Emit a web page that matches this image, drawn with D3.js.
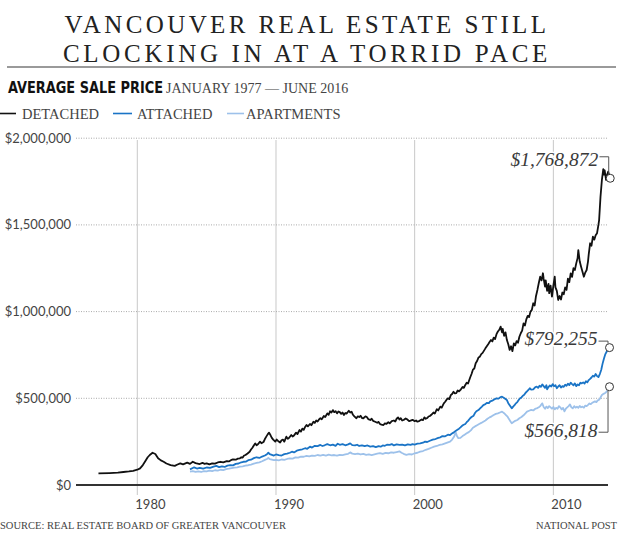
<!DOCTYPE html>
<html>
<head>
<meta charset="utf-8">
<script src="https://cdn.jsdelivr.net/npm/d3@7"></script>
<style>
  html, body { margin: 0; padding: 0; background: #fff; }
  svg { display: block; }
</style>
</head>
<body>
<svg id="chart" width="620" height="542"></svg>
<script>
// ---------- DATA (x = year, y = average price $) ----------
const titleLines = ["VANCOUVER REAL ESTATE STILL", "CLOCKING IN AT A TORRID PACE"];
const subtitleBold = "AVERAGE SALE PRICE";
const subtitleRange = "JANUARY 1977 \u2014 JUNE 2016";
const seriesNames = ["DETACHED", "ATTACHED", "APARTMENTS"];
const seriesColors = ["#111111", "#1a74c6", "#9dc1ea"];
const yTicks = [0, 500000, 1000000, 1500000, 2000000];
const xTicks = [1980, 1990, 2000, 2010];
const sourceText = "SOURCE: REAL ESTATE BOARD OF GREATER VANCOUVER";
const creditText = "NATIONAL POST";

const detached = [
  [1977.2, 67000], [1978.0, 69000], [1978.6, 71000], [1979.0, 75000], [1979.4, 78000], [1979.7, 82000],
  [1980.0, 88000], [1980.2, 96000], [1980.4, 115000], [1980.55, 134000], [1980.75, 160000], [1980.9, 173000],
  [1981.1, 186000], [1981.3, 179000], [1981.5, 154000], [1981.7, 142000], [1981.9, 134000], [1982.1, 124000],
  [1982.4, 115000], [1982.7, 110000], [1982.9, 118000], [1983.1, 125000], [1983.3, 119000], [1983.6, 129000],
  [1983.8, 122000], [1984.0, 134000], [1984.2, 126000], [1984.5, 121000], [1984.7, 128000], [1984.85, 122000],
  [1985.0, 125000], [1985.2, 119000], [1985.4, 125000], [1985.6, 123000], [1985.8, 130000], [1986.0, 134000],
  [1986.2, 131000], [1986.45, 138000], [1986.6, 136000], [1986.75, 143000], [1986.9, 148000], [1987.1, 146000],
  [1987.25, 152000], [1987.4, 154000], [1987.5, 160000], [1987.6, 158000], [1987.7, 170000], [1987.8, 173000],
  [1987.95, 182000], [1988.1, 192000], [1988.2, 205000], [1988.3, 215000], [1988.4, 228000], [1988.5, 240000],
  [1988.6, 229000], [1988.7, 235000], [1988.85, 250000], [1988.95, 241000], [1989.1, 248000], [1989.2, 265000],
  [1989.3, 279000], [1989.4, 292000], [1989.5, 302000], [1989.6, 288000], [1989.7, 272000], [1989.8, 262000],
  [1989.95, 250000], [1990.05, 262000], [1990.15, 254000], [1990.3, 245000], [1990.4, 258000], [1990.5, 262000],
  [1990.6, 250000], [1990.75, 279000], [1990.85, 266000], [1990.95, 272000], [1991.1, 288000], [1991.2, 280000],
  [1991.3, 286000], [1991.45, 302000], [1991.55, 294000], [1991.7, 317000], [1991.8, 308000], [1991.9, 325000],
  [1992.0, 318000], [1992.1, 335000], [1992.2, 346000], [1992.3, 338000], [1992.45, 352000], [1992.55, 345000],
  [1992.7, 365000], [1992.8, 358000], [1992.9, 372000], [1993.0, 366000], [1993.1, 378000], [1993.2, 385000],
  [1993.3, 379000], [1993.45, 398000], [1993.55, 392000], [1993.7, 413000], [1993.8, 405000], [1993.9, 425000],
  [1994.0, 418000], [1994.1, 432000], [1994.2, 420000], [1994.3, 426000], [1994.4, 413000], [1994.5, 424000],
  [1994.6, 420000], [1994.7, 410000], [1994.8, 418000], [1994.9, 404000], [1995.0, 415000], [1995.1, 412000],
  [1995.25, 428000], [1995.35, 418000], [1995.45, 423000], [1995.55, 405000], [1995.65, 396000], [1995.8, 385000],
  [1995.9, 396000], [1996.0, 392000], [1996.1, 399000], [1996.2, 386000], [1996.3, 385000], [1996.45, 396000],
  [1996.55, 392000], [1996.65, 380000], [1996.8, 375000], [1996.9, 382000], [1997.0, 370000], [1997.15, 365000],
  [1997.3, 359000], [1997.4, 364000], [1997.5, 352000], [1997.6, 348000], [1997.75, 346000], [1997.85, 355000],
  [1997.95, 352000], [1998.1, 362000], [1998.2, 356000], [1998.35, 368000], [1998.5, 372000], [1998.6, 366000],
  [1998.7, 382000], [1998.8, 390000], [1998.9, 378000], [1999.0, 385000], [1999.1, 372000], [1999.2, 375000],
  [1999.35, 384000], [1999.45, 379000], [1999.6, 368000], [1999.7, 371000], [1999.85, 376000], [2000.0, 368000],
  [2000.1, 372000], [2000.2, 365000], [2000.35, 370000], [2000.5, 378000], [2000.6, 374000], [2000.7, 390000],
  [2000.8, 382000], [2000.9, 386000], [2001.0, 395000], [2001.1, 398000], [2001.2, 405000], [2001.35, 418000],
  [2001.45, 412000], [2001.6, 437000], [2001.7, 430000], [2001.85, 452000], [2001.95, 446000], [2002.1, 471000],
  [2002.2, 480000], [2002.3, 492000], [2002.4, 500000], [2002.5, 495000], [2002.6, 518000], [2002.7, 525000],
  [2002.8, 538000], [2002.9, 528000], [2003.0, 530000], [2003.1, 545000], [2003.2, 540000], [2003.3, 548000],
  [2003.45, 565000], [2003.55, 560000], [2003.65, 577000], [2003.75, 590000], [2003.85, 585000], [2004.0, 620000],
  [2004.1, 640000], [2004.2, 665000], [2004.3, 672000], [2004.4, 702000], [2004.5, 715000], [2004.6, 735000],
  [2004.7, 740000], [2004.8, 755000], [2004.9, 762000], [2005.0, 775000], [2005.1, 788000], [2005.2, 800000],
  [2005.3, 812000], [2005.4, 825000], [2005.5, 836000], [2005.6, 828000], [2005.7, 850000], [2005.8, 842000],
  [2005.9, 870000], [2006.0, 885000], [2006.1, 895000], [2006.2, 913000], [2006.3, 880000], [2006.35, 900000],
  [2006.45, 860000], [2006.55, 880000], [2006.65, 836000], [2006.75, 812000], [2006.85, 779000], [2006.95, 800000],
  [2007.05, 772000], [2007.15, 817000], [2007.25, 805000], [2007.35, 830000], [2007.45, 820000], [2007.55, 855000],
  [2007.65, 875000], [2007.75, 890000], [2007.85, 932000], [2007.95, 920000], [2008.05, 955000], [2008.15, 975000],
  [2008.25, 968000], [2008.35, 1000000], [2008.45, 1010000], [2008.55, 1048000], [2008.65, 1035000], [2008.75, 1090000],
  [2008.85, 1125000], [2008.95, 1165000], [2009.05, 1201000], [2009.15, 1180000], [2009.25, 1221000], [2009.3, 1190000],
  [2009.4, 1144000], [2009.45, 1180000], [2009.55, 1120000], [2009.65, 1160000], [2009.7, 1106000], [2009.8, 1150000],
  [2009.9, 1086000], [2010.0, 1150000], [2010.1, 1201000], [2010.15, 1140000], [2010.25, 1120000], [2010.35, 1067000],
  [2010.45, 1090000], [2010.55, 1070000], [2010.65, 1110000], [2010.75, 1100000], [2010.85, 1140000], [2010.95, 1125000],
  [2011.05, 1190000], [2011.15, 1170000], [2011.25, 1220000], [2011.35, 1200000], [2011.45, 1250000], [2011.55, 1240000],
  [2011.65, 1278000], [2011.75, 1310000], [2011.8, 1355000], [2011.9, 1290000], [2012.0, 1259000], [2012.1, 1230000],
  [2012.2, 1201000], [2012.3, 1225000], [2012.4, 1240000], [2012.5, 1290000], [2012.55, 1330000], [2012.65, 1394000],
  [2012.75, 1380000], [2012.85, 1432000], [2012.95, 1415000], [2013.05, 1440000], [2013.15, 1452000], [2013.25, 1500000],
  [2013.3, 1528000], [2013.4, 1663000], [2013.5, 1759000], [2013.6, 1821000], [2013.65, 1790000], [2013.7, 1815000],
  [2013.8, 1759000], [2013.88, 1790000], [2013.95, 1807000], [2014.1, 1768872]
];

const attached = [
  [1983.8, 90000], [1984.0, 98000], [1984.1, 102000], [1984.3, 95000], [1984.5, 99000], [1984.75, 94000],
  [1985.0, 101000], [1985.25, 99000], [1985.5, 106000], [1985.7, 110000], [1985.9, 103000], [1986.1, 107000],
  [1986.3, 104000], [1986.5, 112000], [1986.7, 115000], [1986.9, 113000], [1987.1, 122000], [1987.3, 124000],
  [1987.5, 131000], [1987.65, 134000], [1987.85, 135000], [1988.0, 143000], [1988.2, 146000], [1988.4, 155000],
  [1988.6, 160000], [1988.8, 156000], [1989.0, 164000], [1989.2, 170000], [1989.35, 178000], [1989.45, 186000],
  [1989.55, 178000], [1989.7, 174000], [1989.85, 170000], [1990.0, 176000], [1990.2, 172000], [1990.4, 170000],
  [1990.6, 178000], [1990.8, 181000], [1991.0, 186000], [1991.15, 192000], [1991.3, 188000], [1991.5, 198000],
  [1991.7, 202000], [1991.9, 206000], [1992.1, 212000], [1992.25, 209000], [1992.45, 221000], [1992.6, 216000],
  [1992.8, 226000], [1993.0, 224000], [1993.2, 231000], [1993.35, 225000], [1993.5, 229000], [1993.7, 236000],
  [1993.9, 229000], [1994.1, 233000], [1994.3, 226000], [1994.45, 238000], [1994.6, 232000], [1994.8, 236000],
  [1995.0, 229000], [1995.2, 234000], [1995.35, 240000], [1995.5, 230000], [1995.7, 228000], [1995.85, 232000],
  [1996.0, 225000], [1996.2, 229000], [1996.4, 224000], [1996.6, 228000], [1996.8, 221000], [1997.0, 224000],
  [1997.2, 218000], [1997.4, 224000], [1997.55, 221000], [1997.7, 228000], [1997.85, 226000], [1998.0, 232000],
  [1998.2, 231000], [1998.35, 236000], [1998.5, 228000], [1998.7, 234000], [1998.9, 231000], [1999.1, 233000],
  [1999.3, 228000], [1999.5, 234000], [1999.7, 231000], [1999.85, 236000], [2000.0, 233000], [2000.2, 238000],
  [2000.4, 240000], [2000.6, 244000], [2000.75, 250000], [2000.9, 248000], [2001.1, 255000], [2001.3, 262000],
  [2001.5, 265000], [2001.7, 272000], [2001.85, 275000], [2002.0, 282000], [2002.2, 281000], [2002.4, 290000],
  [2002.55, 288000], [2002.7, 298000], [2002.8, 302000], [2002.95, 312000], [2003.05, 317000], [2003.2, 325000],
  [2003.3, 332000], [2003.4, 340000], [2003.5, 346000], [2003.65, 352000], [2003.75, 362000], [2003.85, 370000],
  [2004.0, 385000], [2004.1, 392000], [2004.25, 400000], [2004.35, 415000], [2004.45, 425000], [2004.6, 432000],
  [2004.7, 440000], [2004.85, 452000], [2004.95, 461000], [2005.1, 466000], [2005.2, 474000], [2005.35, 472000],
  [2005.45, 482000], [2005.6, 486000], [2005.75, 494000], [2005.9, 500000], [2006.05, 498000], [2006.2, 507000],
  [2006.3, 509000], [2006.45, 502000], [2006.55, 496000], [2006.65, 490000], [2006.75, 472000], [2006.85, 460000],
  [2007.0, 442000], [2007.1, 452000], [2007.2, 460000], [2007.3, 471000], [2007.4, 478000], [2007.5, 490000],
  [2007.6, 500000], [2007.7, 505000], [2007.8, 515000], [2007.9, 520000], [2008.0, 532000], [2008.1, 540000],
  [2008.2, 548000], [2008.3, 558000], [2008.4, 550000], [2008.55, 552000], [2008.7, 565000], [2008.8, 567000],
  [2008.9, 560000], [2009.0, 572000], [2009.1, 566000], [2009.2, 580000], [2009.3, 570000], [2009.4, 560000],
  [2009.5, 575000], [2009.55, 552000], [2009.65, 565000], [2009.75, 574000], [2009.85, 568000], [2009.95, 582000],
  [2010.05, 570000], [2010.15, 576000], [2010.25, 558000], [2010.35, 568000], [2010.45, 575000], [2010.55, 562000],
  [2010.65, 570000], [2010.75, 566000], [2010.85, 578000], [2010.95, 572000], [2011.05, 584000], [2011.15, 576000],
  [2011.25, 590000], [2011.35, 582000], [2011.45, 575000], [2011.55, 586000], [2011.65, 570000], [2011.75, 580000],
  [2011.85, 575000], [2011.95, 590000], [2012.05, 586000], [2012.15, 592000], [2012.25, 585000], [2012.35, 598000],
  [2012.45, 592000], [2012.55, 605000], [2012.65, 612000], [2012.75, 620000], [2012.85, 630000], [2012.95, 625000],
  [2013.05, 640000], [2013.15, 628000], [2013.25, 622000], [2013.35, 640000], [2013.45, 663000], [2013.55, 700000],
  [2013.65, 730000], [2013.75, 755000], [2013.85, 770000], [2013.95, 785000], [2014.05, 792255]
];

const apartments = [
  [1983.8, 77000], [1984.0, 80000], [1984.2, 76000], [1984.4, 79000], [1984.6, 75000], [1984.8, 80000],
  [1985.0, 78000], [1985.2, 83000], [1985.4, 80000], [1985.6, 85000], [1985.8, 83000], [1986.0, 88000],
  [1986.2, 86000], [1986.4, 92000], [1986.6, 94000], [1986.8, 97000], [1987.0, 100000], [1987.2, 102000],
  [1987.4, 106000], [1987.6, 108000], [1987.8, 112000], [1988.0, 114000], [1988.2, 118000], [1988.4, 123000],
  [1988.6, 127000], [1988.8, 131000], [1989.0, 137000], [1989.2, 145000], [1989.35, 150000], [1989.45, 156000],
  [1989.55, 149000], [1989.7, 146000], [1989.85, 143000], [1990.0, 145000], [1990.2, 142000], [1990.4, 147000],
  [1990.6, 145000], [1990.8, 150000], [1991.0, 154000], [1991.2, 152000], [1991.4, 159000], [1991.6, 158000],
  [1991.8, 164000], [1992.0, 163000], [1992.2, 168000], [1992.4, 165000], [1992.6, 170000], [1992.8, 168000],
  [1993.0, 173000], [1993.2, 170000], [1993.4, 174000], [1993.6, 170000], [1993.8, 175000], [1994.0, 171000],
  [1994.2, 173000], [1994.4, 169000], [1994.6, 174000], [1994.8, 172000], [1995.0, 176000], [1995.2, 180000],
  [1995.35, 188000], [1995.5, 181000], [1995.7, 178000], [1995.9, 181000], [1996.1, 176000], [1996.3, 179000],
  [1996.5, 174000], [1996.7, 177000], [1996.9, 173000], [1997.1, 177000], [1997.3, 181000], [1997.5, 184000],
  [1997.7, 180000], [1997.9, 185000], [1998.1, 183000], [1998.3, 188000], [1998.5, 186000], [1998.7, 190000],
  [1998.9, 194000], [1999.05, 186000], [1999.2, 180000], [1999.4, 174000], [1999.6, 178000], [1999.8, 176000],
  [2000.0, 183000], [2000.2, 186000], [2000.4, 192000], [2000.6, 196000], [2000.8, 203000], [2001.0, 208000],
  [2001.2, 215000], [2001.4, 221000], [2001.6, 225000], [2001.8, 231000], [2002.0, 234000], [2002.2, 240000],
  [2002.4, 246000], [2002.55, 250000], [2002.7, 262000], [2002.85, 280000], [2002.95, 305000], [2003.05, 282000],
  [2003.15, 270000], [2003.3, 272000], [2003.45, 282000], [2003.6, 290000], [2003.75, 298000], [2003.9, 305000],
  [2004.05, 315000], [2004.2, 330000], [2004.35, 338000], [2004.5, 345000], [2004.65, 352000], [2004.8, 358000],
  [2004.95, 365000], [2005.1, 372000], [2005.25, 382000], [2005.4, 390000], [2005.55, 396000], [2005.7, 404000],
  [2005.85, 410000], [2006.0, 413000], [2006.15, 418000], [2006.3, 423000], [2006.45, 414000], [2006.6, 402000],
  [2006.7, 394000], [2006.8, 380000], [2006.9, 368000], [2007.0, 356000], [2007.1, 362000], [2007.25, 370000],
  [2007.4, 375000], [2007.55, 385000], [2007.7, 392000], [2007.85, 402000], [2008.0, 414000], [2008.1, 423000],
  [2008.25, 428000], [2008.4, 433000], [2008.55, 430000], [2008.7, 440000], [2008.8, 442000], [2008.95, 448000],
  [2009.05, 455000], [2009.2, 471000], [2009.3, 450000], [2009.4, 440000], [2009.5, 452000], [2009.6, 444000],
  [2009.7, 455000], [2009.8, 448000], [2009.9, 440000], [2010.0, 450000], [2010.1, 436000], [2010.2, 445000],
  [2010.3, 440000], [2010.4, 455000], [2010.5, 448000], [2010.6, 436000], [2010.7, 445000], [2010.8, 425000],
  [2010.9, 440000], [2011.0, 448000], [2011.1, 455000], [2011.2, 465000], [2011.3, 448000], [2011.4, 442000],
  [2011.5, 455000], [2011.6, 446000], [2011.7, 452000], [2011.8, 445000], [2011.9, 456000], [2012.0, 448000],
  [2012.1, 452000], [2012.2, 446000], [2012.3, 458000], [2012.4, 455000], [2012.5, 462000], [2012.6, 470000],
  [2012.7, 466000], [2012.8, 474000], [2012.9, 478000], [2013.0, 482000], [2013.1, 478000], [2013.2, 488000],
  [2013.3, 492000], [2013.4, 505000], [2013.5, 519000], [2013.6, 525000], [2013.7, 528000], [2013.8, 535000],
  [2013.9, 545000], [2014.05, 566818]
];

const allSeries = [detached, attached, apartments];

// ---------- CHART ----------
const svg = d3.select("#chart");
const serif = "'Liberation Serif', 'DejaVu Serif', serif";
const sans = "Lato, 'Open Sans', sans-serif";

const x = d3.scaleLinear().domain([1975.58, 2013.94]).range([76, 608]);
const y = d3.scaleLinear().domain([0, 2000000]).range([485, 138.2]);

// Title
svg.append("g").selectAll("text").data(titleLines).join("text")
  .attr("x", 307).attr("y", (d, i) => 33 + i * 29)
  .attr("text-anchor", "middle")
  .attr("font-family", serif).attr("font-size", 25)
  .attr("letter-spacing", (d, i) => i === 0 ? 3.4 : 3.7)
  .attr("fill", "#222")
  .text(d => d);

// Rule
svg.append("line").attr("x1", 7).attr("x2", 616).attr("y1", 67).attr("y2", 67)
  .attr("stroke", "#9a9a9a").attr("stroke-width", 2);

// Subtitle
svg.append("text").attr("x", 8).attr("y", 93)
  .attr("font-family", "'Liberation Sans Narrow', 'DejaVu Sans Condensed', 'Roboto', sans-serif")
  .attr("font-weight", "bold").attr("font-size", 15.5).attr("fill", "#111")
  .attr("textLength", 155).attr("lengthAdjust", "spacingAndGlyphs")
  .text(subtitleBold);
svg.append("text").attr("x", 166).attr("y", 93)
  .attr("font-family", serif).attr("font-size", 14).attr("fill", "#444")
  .text(subtitleRange);

// Legend
const legendDash = [[0, 16], [113, 132], [227, 244]];
const legendTextX = [22, 137, 246];
const legend = svg.append("g").selectAll("g").data(seriesNames).join("g");
legend.append("line")
  .attr("x1", (d, i) => legendDash[i][0]).attr("x2", (d, i) => legendDash[i][1])
  .attr("y1", 113.5).attr("y2", 113.5)
  .attr("stroke", (d, i) => seriesColors[i]).attr("stroke-width", 1.6);
legend.append("text").attr("x", (d, i) => legendTextX[i]).attr("y", 119)
  .attr("font-family", serif).attr("font-size", 14.5).attr("fill", "#444")
  .text(d => d);

// Vertical grid (decades)
svg.append("g").selectAll("line").data(xTicks).join("line")
  .attr("x1", d => x(d)).attr("x2", d => x(d))
  .attr("y1", 140).attr("y2", 495)
  .attr("stroke", "#c8c8c8").attr("stroke-width", 1);

// Horizontal dotted grid
svg.append("g").selectAll("line").data(yTicks.filter(d => d > 0)).join("line")
  .attr("x1", 76).attr("x2", 608)
  .attr("y1", d => y(d)).attr("y2", d => y(d))
  .attr("stroke", "#aaa").attr("stroke-width", 1).attr("stroke-dasharray", "1,1.5");

// Y axis labels
svg.append("g").selectAll("text").data(yTicks).join("text")
  .attr("x", 71).attr("y", d => y(d)).attr("dy", "0.35em")
  .attr("text-anchor", "end")
  .attr("font-family", sans).attr("font-size", 13).attr("fill", "#444")
  .text(d => "$" + d3.format(",")(d));

// Baseline
svg.append("line").attr("x1", 76).attr("x2", 608).attr("y1", y(0)).attr("y2", y(0))
  .attr("stroke", "#333").attr("stroke-width", 2);

// X axis labels
svg.append("g").selectAll("text").data(xTicks).join("text")
  .attr("x", d => x(d) - 2).attr("y", 509)
  .attr("font-family", sans).attr("font-size", 13).attr("fill", "#444")
  .text(d => d);

// Lines
const line = d3.line().x(d => x(d[0])).y(d => y(d[1]));
svg.append("g").selectAll("path").data(allSeries.slice().reverse()).join("path")
  .attr("d", line)
  .attr("fill", "none")
  .attr("stroke", (d, i) => seriesColors[2 - i])
  .attr("stroke-width", 1.8)
  .attr("stroke-linejoin", "round");

// Annotations
const fmt = d => "$" + d3.format(",")(d);
const ann = svg.append("g");
function annotate(series, textDy, leaderY) {
  const last = series[series.length - 1];
  const cx = x(last[0]), cy = y(last[1]);
  const tx = cx - 12, ty = cy + textDy;
  const ly = cy + leaderY;
  ann.append("path")
    .attr("d", `M${tx + 1},${ly}H${cx - 1.5}V${leaderY < 0 ? cy - 4 : cy + 4}`)
    .attr("fill", "none").attr("stroke", "#555").attr("stroke-width", 1);
  ann.append("text").attr("x", tx).attr("y", ty)
    .attr("text-anchor", "end")
    .attr("font-family", serif).attr("font-style", "italic").attr("font-size", 19.5)
    .attr("fill", "#3a3a3a")
    .attr("stroke", "#fff").attr("stroke-width", 3).attr("paint-order", "stroke")
    .text(fmt(last[1]));
  ann.append("circle").attr("cx", cx).attr("cy", cy).attr("r", 4)
    .attr("fill", "#fff").attr("stroke", "#333").attr("stroke-width", 1);
}
annotate(detached, -12.5, -21.5);
annotate(attached, -2.5, -6.5);
annotate(apartments, 50, 45.5);

// Footer
svg.append("text").attr("x", 0).attr("y", 529)
  .attr("font-family", serif).attr("font-size", 10.5).attr("fill", "#444")
  .text(sourceText);
svg.append("text").attr("x", 617).attr("y", 529).attr("text-anchor", "end")
  .attr("font-family", serif).attr("font-size", 10.5).attr("fill", "#444")
  .text(creditText);
</script>
</body>
</html>
